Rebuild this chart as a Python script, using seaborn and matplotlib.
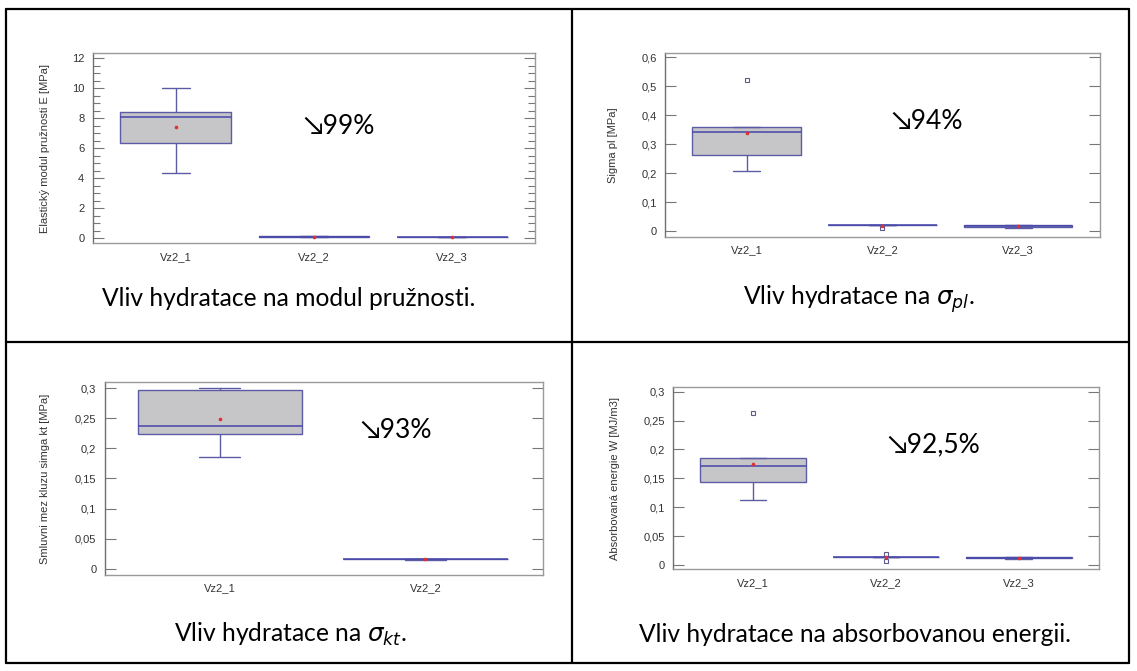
import numpy as np
import pandas as pd
import matplotlib
matplotlib.use("Agg")
import matplotlib.pyplot as plt
import seaborn as sns
from matplotlib.ticker import FuncFormatter, MultipleLocator
from matplotlib.lines import Line2D

sns.set_theme(style="white")
plt.rcParams['font.family'] = ['Liberation Sans', 'DejaVu Sans']

groups3 = ["Vz2_1", "Vz2_2", "Vz2_3"]
groups2 = ["Vz2_1", "Vz2_2"]

# Elastic modulus E [MPa]
E_vz2_1 = [4.37, 5.6, 6.33, 7.2, 8.07, 8.2, 8.44, 8.75, 10.0]
E_vz2_2 = [0.06, 0.08, 0.11, 0.14, 0.16]
E_vz2_3 = [0.09, 0.095, 0.10, 0.105, 0.11]

# Sigma pl [MPa]
Spl_vz2_1 = [0.208, 0.2625, 0.341, 0.358, 0.522]
Spl_vz2_2 = [0.009, 0.0205, 0.021, 0.0212, 0.0215]
Spl_vz2_3 = [0.011, 0.013, 0.016, 0.019, 0.020]

# Smluvni mez kluzu sigma kt [MPa]
Skt_vz2_1 = [0.1858, 0.224, 0.2373, 0.2972, 0.300]
Skt_vz2_2 = [0.0150, 0.0154, 0.0156, 0.0158, 0.0160]

# Absorbed energy W [MJ/m3]
W_vz2_1 = [0.1125, 0.1431, 0.1713, 0.1846, 0.2625]
W_vz2_2 = [0.007, 0.0140, 0.0143, 0.0145, 0.019]
W_vz2_3 = [0.0104, 0.0120, 0.0128, 0.0134, 0.0135]

ylabels = ["Elastický modul pružnosti E [MPa]", "Sigma pl [MPa]",
           "Smluvni mez kluzu simga kt [MPa]", "Absorbovaná energie W [MJ/m3]"]
reductions = ["↘99%", "↘94%", "↘93%", "↘92,5%"]
captions = ["Vliv hydratace na modul pružnosti.", r"Vliv hydratace na $\sigma_{pl}$.",
            r"Vliv hydratace na $\sigma_{kt}$.", "Vliv hydratace na absorbovanou energii."]

panels = [
    (groups3, [E_vz2_1, E_vz2_2, E_vz2_3]),
    (groups3, [Spl_vz2_1, Spl_vz2_2, Spl_vz2_3]),
    (groups2, [Skt_vz2_1, Skt_vz2_2]),
    (groups3, [W_vz2_1, W_vz2_2, W_vz2_3]),
]

# ---------------- layout ----------------
W, H = 1137, 671
fig = plt.figure(figsize=(W / 100, H / 100), dpi=100)
fig.patch.set_facecolor("white")
plt.rcParams['mathtext.fontset'] = 'dejavusans'

def fx(px):
    return px / W

def fy(py):
    return 1 - py / H

# axes boxes in pixels: left, top, right, bottom
boxes = [(92.7, 53.3, 535.3, 243.3), (665.2, 53.3, 1099.6, 236.7),
         (104.7, 382.3, 542.5, 575.0), (673.2, 386.7, 1098.5, 569.3)]
ylims = [(-0.34, 12.33), (-0.0197, 0.614), (-0.0105, 0.31), (-0.0075, 0.3087)]
xlims = [(-0.6, 2.6), (-0.6, 2.6), (-0.56, 1.57), (-0.6, 2.6)]
ymajor = [2, 0.1, 0.05, 0.05]
label_right_px = [50, 618, 50.5, 620]
pct_pos = [(339, 126.7), (927, 121.7), (396, 430), (933.6, 445)]
cap_pos = [(289, 298), (859, 299), (290.7, 634), (855.4, 634)]

fill_c = "#c6c6c8"
edge_c = "#5c5ca6"
median_c = "#4646aa"

def fmt(v, pos):
    s = f"{v:.2f}".rstrip("0").rstrip(".")
    if s in ("-0",):
        s = "0"
    return s.replace(".", ",")

for i, (cats, series) in enumerate(panels):
    l, t, r, b = boxes[i]
    ax = fig.add_axes([fx(l), fy(b), fx(r - l), (b - t) / H])
    grp = []
    val = []
    for c, s in zip(cats, series):
        grp += [c] * len(s)
        val += list(s)
    df = pd.DataFrame({"group": grp, "value": val})
    sns.boxplot(data=df, x="group", y="value", order=cats, ax=ax,
                width=0.8, color=fill_c, saturation=1, linecolor=edge_c,
                linewidth=1.0, showmeans=True,
                meanprops=dict(marker="o", markerfacecolor="#e03030",
                               markeredgecolor="#e03030", markersize=1.6),
                medianprops=dict(color=median_c, linewidth=1.1),
                flierprops=dict(marker="s", markersize=3, markerfacecolor="none",
                                markeredgecolor="#5c5c8a", markeredgewidth=0.8),
                capwidths=0.2)
    ax.set_xlim(*xlims[i])
    ax.set_ylim(*ylims[i])
    ax.set_xlabel("")
    ax.set_ylabel(ylabels[i], fontsize=8, color="#333333")
    ax.yaxis.set_label_coords((label_right_px[i] - l) / (r - l), 0.5)
    ax.yaxis.set_major_locator(MultipleLocator(ymajor[i]))
    ax.yaxis.set_major_formatter(FuncFormatter(fmt))
    if i == 0:
        ax.yaxis.set_minor_locator(MultipleLocator(0.5))
        ax.tick_params(axis="y", which="minor", direction="in", length=5,
                       left=True, right=True, color="#777777", width=0.8)
    ax.tick_params(axis="y", which="major", direction="in", length=8,
                   left=True, right=True, color="#777777", width=0.8,
                   labelsize=8, labelcolor="#333333", pad=6)
    ax.tick_params(axis="x", length=0, labelsize=8, labelcolor="#333333", pad=6)
    for side, sp in ax.spines.items():
        sp.set_visible(True)
        sp.set_color("#9a9a9a")
        sp.set_linewidth(1.0)
    ax.spines["left"].set_color("#707070")
    ax.set_facecolor("white")

    px, py = pct_pos[i]
    fig.text(fx(px), fy(py), reductions[i], ha="center", va="center",
             fontsize=19, family=["Lato", "DejaVu Sans"], color="black")
    cx, cy = cap_pos[i]
    fig.text(fx(cx), fy(cy), captions[i], ha="center", va="center",
             fontsize=17.7, family=["Lato", "DejaVu Sans"], color="black")

# table lines
lw = 1.6
for (x0, y0, x1, y1) in [(6, 9, 1129, 9), (6, 341.7, 1129, 341.7), (6, 663, 1129, 663),
                         (6, 9, 6, 663), (571.6, 9, 571.6, 663), (1129, 9, 1129, 663)]:
    fig.add_artist(Line2D([fx(x0), fx(x1)], [fy(y0), fy(y1)], color="black",
                          linewidth=lw, transform=fig.transFigure))

fig.savefig("out.png", dpi=100, facecolor="white")
